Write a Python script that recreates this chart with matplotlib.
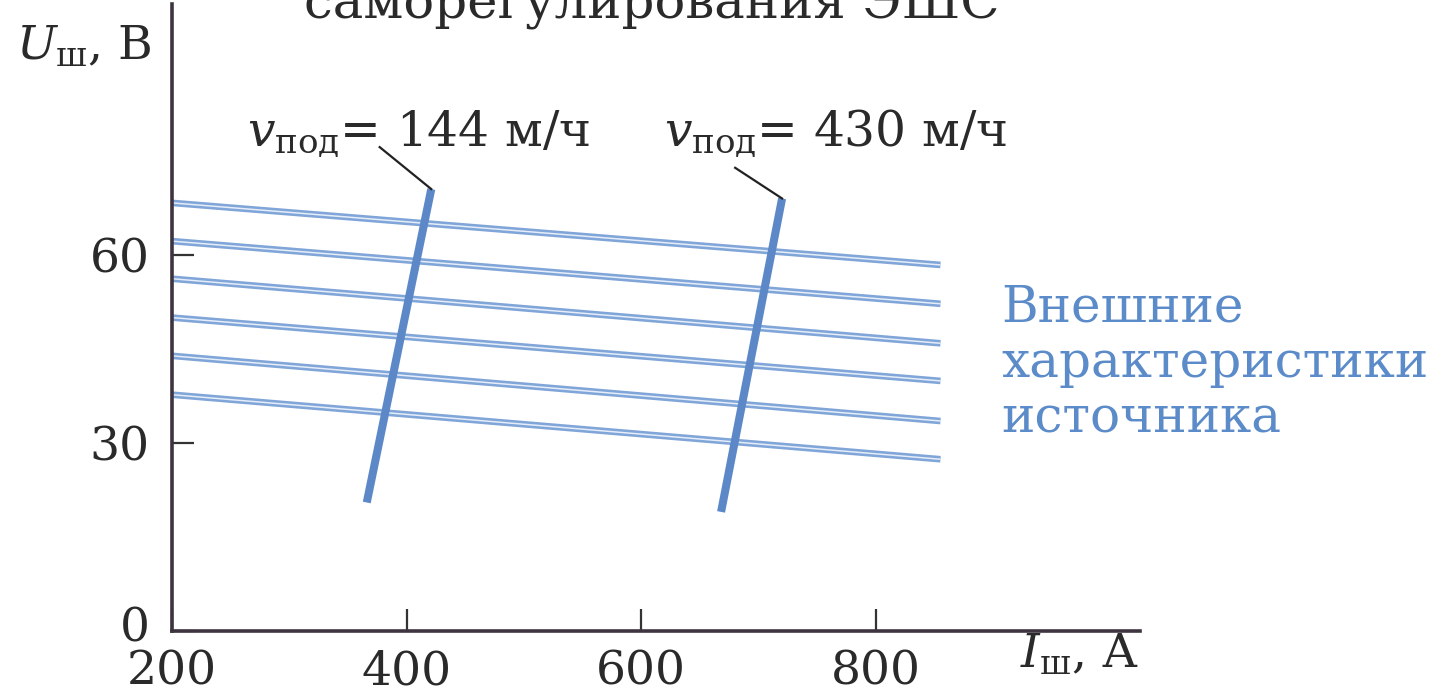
import numpy as np
import matplotlib
matplotlib.use("Agg")
import matplotlib.pyplot as plt
from matplotlib.transforms import ScaledTranslation

plt.rcParams['font.family'] = ['DejaVu Serif']
plt.rcParams['mathtext.fontset'] = 'custom'
plt.rcParams['mathtext.rm'] = 'DejaVu Serif'
plt.rcParams['mathtext.it'] = 'DejaVu Serif:italic'

# source external characteristics (I in A, U in V)
source_I = [200, 855]
source_U_start = [68.3, 62.2, 56.2, 50.0, 43.9, 37.7]
source_U_end = [58.4, 52.2, 45.9, 39.9, 33.5, 27.4]

# self-regulation lines for two feed speeds
feed_labels = ['144', '430']
feed_I = [[366, 421], [668, 720]]
feed_U = [[20.5, 70.5], [19.0, 69.0]]

x_ticks = [200, 400, 600, 800]
y_ticks = [0, 30, 60]
legend_lines = ['Внешние', 'характеристики', 'источника']

line_blue = '#80a5d8'
line_core = '#e4edf8'
steep_blue = '#5d88c8'
text_blue = '#5b8bc9'
axis_col = '#3e3440'
ink = '#2a2a2a'

fig = plt.figure(figsize=(14.49, 6.98), dpi=100)
ax = fig.add_axes([0.1187, 0.096, 0.668, 0.898])

for u0, u1 in zip(source_U_start, source_U_end):
    ax.plot(source_I, [u0, u1], color=line_blue, lw=4.8, solid_capstyle='butt', zorder=2)
    ax.plot(source_I, [u0, u1], color=line_core, lw=1.1, solid_capstyle='butt', zorder=2)

# label anchors and leader starts (annotation layout)
label_I = [264, 619]
label_U = 77.5
leader_I = [377, 680]
leader_U = [77.2, 73.9]
for lab, xs, us, lx, ldx, ldu in zip(feed_labels, feed_I, feed_U, label_I, leader_I, leader_U):
    ax.plot(xs, us, color=steep_blue, lw=5.8, solid_capstyle='butt', zorder=3)
    ax.plot([ldx, xs[1]], [ldu, us[1]], color='#222222', lw=1.6, zorder=4)
    ax.text(lx, label_U, r'$\mathit{v}_{\mathrm{под}}$' + '= ' + lab + ' м/ч',
            fontsize=35, color=ink, va='baseline', ha='left')

for i, txt in enumerate(legend_lines):
    ax.text(907, 49.3 - i * 8.8, txt, fontsize=36, color=text_blue,
            va='baseline', ha='left')

ax.set_xlim(200, 1025)
ax.set_ylim(0, 100)
ax.set_xticks(x_ticks)
ax.set_yticks(y_ticks)
ax.tick_params(direction='in', length=16, width=1.6, colors='#333333',
               labelsize=34, labelcolor=ink)
ax.tick_params(axis='x', pad=13)
ax.tick_params(axis='y', pad=16)
for side in ['top', 'right']:
    ax.spines[side].set_visible(False)
for side in ['left', 'bottom']:
    ax.spines[side].set_color(axis_col)
    ax.spines[side].set_linewidth(2.6)

# lift the "0" label a little, as in the original
zero_lbl = ax.yaxis.get_major_ticks()[0].label1
zero_lbl.set_transform(zero_lbl.get_transform() + ScaledTranslation(0, 5 / 72, fig.dpi_scale_trans))

fig.text(0.058, 0.915, r'$\mathit{U}_{\mathrm{ш}}$, В', fontsize=34,
         color=ink, ha='center', va='baseline')
fig.text(0.704, 0.043, r'$\mathit{I}_{\mathrm{ш}}$, А', fontsize=34,
         color=ink, ha='left', va='baseline')
fig.text(0.45, 0.974, 'саморегулирования ЭШС', fontsize=37,
         color=ink, ha='center', va='baseline')

fig.savefig('out.png', dpi=100, facecolor='white')
